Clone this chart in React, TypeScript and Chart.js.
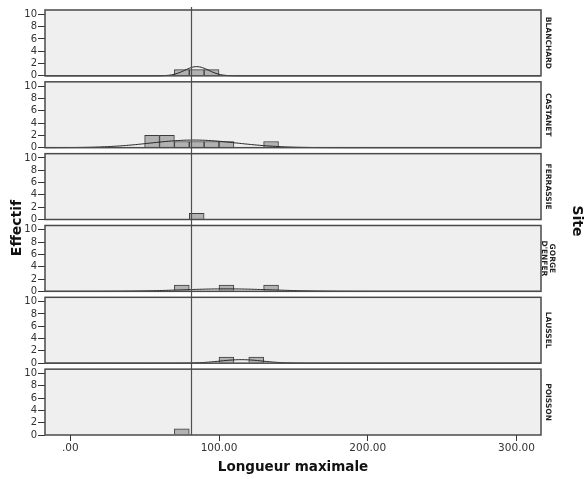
import React, { useEffect, useRef } from 'react';
import { Chart, registerables } from 'chart.js';

Chart.register(...registerables);

// ---------- data ----------
const siteLabels: string[][] = [['BLANCHARD'], ['CASTANET'], ['FERRASSIE'], ['GORGE', "D'ENFER"], ['LAUSSEL'], ['POISSON']];
const binStarts = [50, 60, 70, 80, 90, 100, 110, 120, 130];
const BIN_WIDTH = 10;
const blanchardCounts = [0, 0, 1, 1, 1, 0, 0, 0, 0];
const castanetCounts = [2, 2, 1, 1, 1, 1, 0, 0, 1];
const ferrassieCounts = [0, 0, 0, 1, 0, 0, 0, 0, 0];
const gorgeCounts = [0, 0, 1, 0, 0, 1, 0, 0, 1];
const lausselCounts = [0, 0, 0, 0, 0, 1, 0, 1, 0];
const poissonCounts = [0, 0, 1, 0, 0, 0, 0, 0, 0];
const siteCounts = [blanchardCounts, castanetCounts, ferrassieCounts, gorgeCounts, lausselCounts, poissonCounts];
// fitted normal curve parameters; null = no curve drawn
const curveMeans: (number | null)[] = [85, 83, null, 105, 115, null];
const curveSds: (number | null)[] = [8, 29, null, 30, 14, null];
const referenceValue = 81.2;
const xTickValues = [0, 100, 200, 300];
const xTickLabels = ['.00', '100.00', '200.00', '300.00'];
const yTickValues = [0, 2, 4, 6, 8, 10];
const xTitle = 'Longueur maximale';
const yTitle = 'Effectif';
const facetTitle = 'Site';

// ---------- layout constants ----------
const X_MIN = -17;
const X_MAX = 316.5;
const PANEL_MAX = 10.7;
const GAP_UNITS = 0.486;
const W = 584;
const H = 479;
const FONT = "'DejaVu Sans', sans-serif";
const yIds = siteLabels.map((_, i) => 'y' + i);

function normalCurve(i: number) {
  const m = curveMeans[i];
  const s = curveSds[i];
  if (m == null || s == null) return [];
  const n = siteCounts[i].reduce((a, b) => a + b, 0);
  const pts: { x: number; y: number }[] = [];
  for (let x = X_MIN; x <= X_MAX; x += 1) {
    const z = (x - m) / s;
    pts.push({ x, y: (n * BIN_WIDTH * Math.exp(-0.5 * z * z)) / (s * Math.sqrt(2 * Math.PI)) });
  }
  return pts;
}

const panelPlugin = {
  id: 'panels',
  beforeDatasetsDraw(chart: any) {
    const { ctx, chartArea } = chart;
    ctx.save();
    yIds.forEach((id) => {
      const s = chart.scales[id];
      const top = s.getPixelForValue(PANEL_MAX);
      const bot = s.getPixelForValue(0);
      ctx.fillStyle = '#efefef';
      ctx.fillRect(chartArea.left, top, chartArea.right - chartArea.left, bot - top);
    });
    ctx.restore();
  },
  afterDatasetsDraw(chart: any) {
    const { ctx, chartArea } = chart;
    const xs = chart.scales.x;
    const rx = Math.round(xs.getPixelForValue(referenceValue)) + 0.5;
    ctx.save();
    // reference line through all panels
    const firstTop = chart.scales[yIds[0]].getPixelForValue(PANEL_MAX);
    ctx.strokeStyle = '#505050';
    ctx.lineWidth = 1.2;
    ctx.beginPath();
    ctx.moveTo(rx, firstTop - 3);
    ctx.lineTo(rx, chartArea.bottom);
    ctx.stroke();
    yIds.forEach((id, i) => {
      const s = chart.scales[id];
      const top = s.getPixelForValue(PANEL_MAX);
      const bot = s.getPixelForValue(0);
      // frame
      ctx.strokeStyle = '#4a4a4a';
      ctx.lineWidth = 1.5;
      ctx.strokeRect(chartArea.left, top, chartArea.right - chartArea.left, bot - top);
      // site label
      const lines = siteLabels[i];
      const cy = (top + bot) / 2;
      ctx.save();
      ctx.translate(548, cy);
      ctx.rotate(Math.PI / 2);
      ctx.fillStyle = '#222';
      ctx.font = `bold 7.5px ${FONT}`;
      ctx.textAlign = 'center';
      ctx.textBaseline = 'middle';
      const lh = 7.5;
      lines.forEach((t, k) => {
        ctx.fillText(t, 0, (k - (lines.length - 1) / 2) * lh);
      });
      ctx.restore();
    });
    ctx.restore();
  },
  afterDraw(chart: any) {
    const { ctx, chartArea } = chart;
    ctx.save();
    ctx.fillStyle = '#111';
    ctx.font = `bold 13.5px ${FONT}`;
    ctx.textAlign = 'center';
    ctx.textBaseline = 'middle';
    ctx.fillText(xTitle, (chartArea.left + chartArea.right) / 2, 467);
    ctx.save();
    ctx.translate(17, 228);
    ctx.rotate(-Math.PI / 2);
    ctx.font = `bold 14px ${FONT}`;
    ctx.fillText(yTitle, 0, 0);
    ctx.restore();
    ctx.save();
    ctx.translate(577, 221);
    ctx.rotate(Math.PI / 2);
    ctx.font = `bold 14px ${FONT}`;
    ctx.fillText(facetTitle, 0, 0);
    ctx.restore();
    ctx.restore();
  },
};

export default function App() {
  const ref = useRef<HTMLCanvasElement>(null);
  useEffect(() => {
    if (!ref.current) return;
    const datasets: any[] = [];
    siteCounts.forEach((counts, i) => {
      datasets.push({
        type: 'line',
        label: 'curve-' + i,
        data: normalCurve(i),
        yAxisID: yIds[i],
        xAxisID: 'x',
        borderColor: '#222',
        borderWidth: 1,
        pointRadius: 0,
        tension: 0,
        fill: false,
        order: 0,
      });
      datasets.push({
        type: 'bar',
        label: 'bars-' + i,
        data: binStarts
          .map((b, k) => ({ x: b + BIN_WIDTH / 2, y: counts[k] }))
          .filter((d) => d.y > 0),
        yAxisID: yIds[i],
        xAxisID: 'x',
        backgroundColor: '#b2b2b2',
        borderColor: '#3c3c3c',
        borderWidth: 1,
        barPercentage: 1,
        categoryPercentage: 1,
        grouped: false,
        order: 1,
      });
    });

    const scales: any = {
      x: {
        type: 'linear',
        position: 'bottom',
        offset: false,
        min: X_MIN,
        max: X_MAX,
        afterBuildTicks: (s: any) => {
          s.ticks = xTickValues.map((v) => ({ value: v }));
        },
        afterFit: (s: any) => {
          s.height = 44;
        },
        ticks: {
          autoSkip: false,
          maxRotation: 0,
          padding: 1,
          color: '#333',
          font: { family: FONT, size: 10.5 },
          callback: (v: any) => {
            const k = xTickValues.indexOf(Number(v));
            return k >= 0 ? xTickLabels[k] : '';
          },
        },
        grid: { offset: false, drawOnChartArea: false, drawTicks: true, tickLength: 6, color: '#333', lineWidth: 1 },
        border: { display: false },
      },
    };
    // declared in reverse so that the first site lands on top of the stack
    for (let i = yIds.length - 1; i >= 0; i--) {
      const isBottom = i === yIds.length - 1;
      scales[yIds[i]] = {
        type: 'linear',
        position: 'left',
        stack: 'sites',
        stackWeight: isBottom ? 69 : 72,
        min: isBottom ? 0 : -GAP_UNITS,
        max: PANEL_MAX + GAP_UNITS,
        afterBuildTicks: (s: any) => {
          s.ticks = yTickValues.map((v) => ({ value: v }));
        },
        afterFit: (s: any) => {
          s.width = 45;
        },
        ticks: {
          autoSkip: false,
          padding: 1,
          color: '#333',
          font: { family: FONT, size: 10 },
        },
        grid: { drawOnChartArea: false, drawTicks: true, tickLength: 7, color: '#333', lineWidth: 1 },
        border: { display: false },
      };
    }

    const chart = new Chart(ref.current, {
      type: 'bar',
      data: { datasets },
      options: {
        responsive: false,
        maintainAspectRatio: false,
        animation: false,
        layout: { padding: { top: 6, right: 43, left: 0, bottom: 0 } },
        plugins: { legend: { display: false }, tooltip: { enabled: false } },
        scales,
      },
      plugins: [panelPlugin],
    } as any);
    return () => chart.destroy();
  }, []);

  return (
    <div style={{ position: 'fixed', left: 0, top: 0, width: W, height: H, background: '#fff' }}>
      <canvas ref={ref} width={W} height={H} style={{ display: 'block' }} />
    </div>
  );
}
